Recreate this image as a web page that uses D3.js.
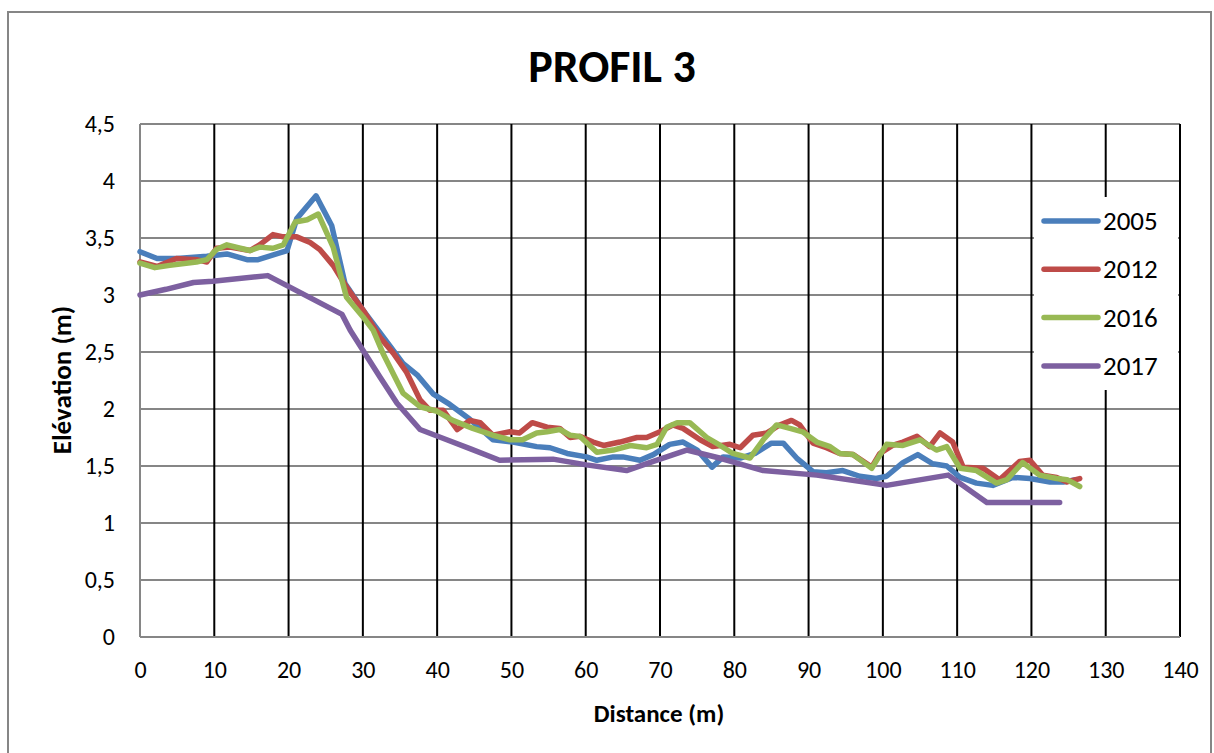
<!DOCTYPE html>
<html><head><meta charset="utf-8">
<script src="https://cdn.jsdelivr.net/npm/d3@7"></script>
<style>body{margin:0;background:#fff}svg{display:block}text{font-family:Carlito,Lato,"Open Sans",sans-serif;fill:#000}</style>
</head><body><svg id="c" width="1214" height="753"></svg>
<script>
const title = "PROFIL 3";
const xLabel = "Distance (m)";
const yLabel = "Elévation (m)";
const xTicks = [0,10,20,30,40,50,60,70,80,90,100,110,120,130,140];
const yTicks = [0,0.5,1,1.5,2,2.5,3,3.5,4,4.5];
const seriesNames = ["2005","2012","2016","2017"];
const seriesColors = ["#4A7EBB","#BE4B48","#98B954","#7D60A0"];

const s2005 = [[0,3.38],[2.3,3.32],[5,3.32],[9,3.34],[11.7,3.36],[14.4,3.31],[15.9,3.31],[19.8,3.39],[21.1,3.67],[23.7,3.87],[25.8,3.61],[27.6,3.10],[30,2.87],[32.3,2.67],[35.4,2.40],[37.3,2.30],[39.5,2.13],[41.7,2.04],[44.4,1.91],[47.5,1.73],[50.2,1.71],[53.4,1.67],[55.2,1.66],[57.5,1.61],[60.1,1.58],[61.5,1.55],[63.7,1.58],[65,1.58],[67.3,1.55],[69.1,1.60],[71.3,1.69],[73.1,1.71],[75,1.64],[77,1.49],[78.5,1.58],[80.8,1.57],[82.8,1.61],[85,1.70],[86.6,1.70],[88.4,1.57],[90.6,1.45],[92.4,1.44],[94.6,1.46],[96.9,1.41],[99.1,1.39],[100.5,1.41],[102.7,1.53],[104.7,1.60],[106.7,1.52],[108.6,1.50],[110.4,1.40],[112.6,1.35],[114.8,1.33],[117.5,1.40],[119.8,1.39],[122.5,1.36],[124.3,1.36],[126,1.38]];
const s2012 = [[0,3.29],[2.3,3.25],[4.9,3.32],[7.6,3.31],[9,3.29],[10.3,3.41],[12.1,3.42],[14.8,3.39],[16.1,3.44],[17.9,3.53],[19.3,3.51],[21.1,3.51],[22.9,3.46],[24.2,3.40],[26,3.26],[27.8,3.07],[30,2.87],[32.3,2.63],[34.1,2.49],[35.9,2.32],[37.7,2.08],[39,1.99],[40.8,1.99],[42.7,1.82],[44.4,1.90],[45.8,1.88],[47.5,1.77],[49.8,1.80],[51.1,1.79],[52.8,1.88],[54.8,1.84],[56.5,1.83],[57.9,1.75],[59.2,1.76],[61,1.71],[62.4,1.68],[64.6,1.71],[66.9,1.75],[68.2,1.75],[70,1.80],[71.7,1.86],[73.1,1.83],[75.4,1.73],[77.1,1.67],[79.4,1.69],[80.8,1.66],[82.5,1.77],[84.4,1.79],[86.1,1.86],[87.7,1.90],[88.8,1.86],[90.6,1.70],[92.4,1.66],[94.2,1.61],[96,1.60],[98.5,1.49],[99.6,1.61],[101.3,1.68],[102.7,1.71],[104.6,1.76],[106.3,1.67],[107.7,1.79],[109.4,1.71],[110.8,1.49],[113.5,1.48],[115.7,1.38],[118.4,1.54],[119.8,1.55],[121.5,1.42],[123.4,1.40],[124.8,1.36],[126.5,1.39]];
const s2016 = [[0,3.28],[2,3.24],[4,3.26],[7.6,3.29],[9,3.31],[10.3,3.40],[11.7,3.44],[13.5,3.41],[14.8,3.39],[16.1,3.42],[17.9,3.41],[19.3,3.44],[20.9,3.64],[22.5,3.66],[24,3.71],[26,3.42],[27.8,2.98],[30,2.81],[31.4,2.69],[32.7,2.49],[35.4,2.14],[37.7,2.02],[40,1.98],[42.1,1.90],[44.8,1.83],[47.5,1.77],[49.8,1.73],[51.5,1.73],[53.4,1.79],[54.8,1.80],[56.5,1.82],[57.9,1.77],[59.2,1.76],[61.5,1.62],[63.7,1.64],[66,1.68],[68.2,1.66],[69.6,1.69],[70.9,1.84],[72.3,1.88],[74,1.88],[76.3,1.75],[78.1,1.68],[79.8,1.61],[82.1,1.57],[83.9,1.73],[85.7,1.86],[87.5,1.83],[89.2,1.80],[91.1,1.71],[92.9,1.67],[94.2,1.61],[96,1.60],[98.5,1.48],[100.5,1.69],[102.7,1.68],[105,1.73],[107.2,1.64],[108.6,1.67],[110.4,1.48],[112.6,1.46],[115.3,1.35],[116.7,1.38],[118.8,1.53],[121.1,1.42],[123.4,1.39],[124.8,1.38],[126.5,1.32]];
const s2017 = [[0,3.00],[3.5,3.05],[7.2,3.11],[9.8,3.12],[17.2,3.17],[27.2,2.83],[28.3,2.69],[32.3,2.28],[34.6,2.05],[37.7,1.82],[41.3,1.73],[44.5,1.65],[48.4,1.55],[55.6,1.56],[60.1,1.51],[65.5,1.46],[69.1,1.54],[73.6,1.64],[78,1.57],[83.9,1.46],[91.1,1.42],[99.6,1.34],[100.5,1.33],[108.8,1.42],[114,1.18],[123.8,1.18]];
const seriesData = [s2005,s2012,s2016,s2017];

const svg = d3.select("#c");
svg.append("rect").attr("x",8).attr("y",12).attr("width",1203).attr("height",745)
  .attr("fill","#fff").attr("stroke","#868686").attr("stroke-width",2);

const L=140,R=1180,T=124,B=637;
const x = d3.scaleLinear().domain([0,140]).range([L,R]);
const y = d3.scaleLinear().domain([0,4.5]).range([B,T]);

const grid = svg.append("g");
grid.selectAll(".hg").data(yTicks.filter(v=>v>0)).join("line")
  .attr("x1",L).attr("x2",R).attr("y1",d=>y(d)).attr("y2",d=>y(d))
  .attr("stroke","#868686").attr("stroke-width",2);
grid.selectAll(".vg").data(xTicks.filter(v=>v>0)).join("line")
  .attr("x1",d=>x(d)).attr("x2",d=>x(d)).attr("y1",T).attr("y2",B)
  .attr("stroke","#000").attr("stroke-width",2);
grid.append("line").attr("x1",L).attr("x2",L).attr("y1",T).attr("y2",B).attr("stroke","#868686").attr("stroke-width",2);
grid.append("line").attr("x1",L).attr("x2",R).attr("y1",B).attr("y2",B).attr("stroke","#868686").attr("stroke-width",2);

const fmt = d => String(d).replace(".",",");
const yAxis = svg.append("g").attr("transform",`translate(${L},0)`)
  .call(d3.axisLeft(y).tickValues(yTicks).tickFormat(fmt).tickSize(0).tickPadding(25));
yAxis.select(".domain").remove();
yAxis.selectAll("text").style("font-size","24px").attr("font-family","Carlito,Lato,sans-serif");
const xAxis = svg.append("g").attr("transform",`translate(0,${B})`)
  .call(d3.axisBottom(x).tickValues(xTicks).tickFormat(fmt).tickSize(0).tickPadding(24));
xAxis.select(".domain").remove();
xAxis.selectAll("text").style("font-size","24px").attr("font-family","Carlito,Lato,sans-serif");

const line = d3.line().x(d=>x(d[0])).y(d=>y(d[1]));
seriesData.forEach((s,i)=>{
  svg.append("path").datum(s).attr("d",line).attr("fill","none")
    .attr("stroke",seriesColors[i]).attr("stroke-width",5.5)
    .attr("stroke-linejoin","round").attr("stroke-linecap","round");
});

// legend
const lg = svg.append("g");
lg.append("rect").attr("x",1034).attr("y",197).attr("width",144).attr("height",193).attr("fill","#fff");
seriesNames.forEach((n,i)=>{
  const yy = 221 + i*48.3;
  lg.append("line").attr("x1",1044).attr("x2",1098).attr("y1",yy).attr("y2",yy)
    .attr("stroke",seriesColors[i]).attr("stroke-width",5.5).attr("stroke-linecap","round");
  lg.append("text").attr("x",1103).attr("y",yy+9).style("font-size","27px").text(n);
});

svg.append("text").attr("x",612).attr("y",82).attr("text-anchor","middle")
  .style("font-size","46px").style("font-weight","bold").text(title);
svg.append("text").attr("x",659).attr("y",722).attr("text-anchor","middle")
  .style("font-size","25px").style("font-weight","bold").text(xLabel);
svg.append("text").attr("transform","translate(71,380) rotate(-90)").attr("text-anchor","middle")
  .style("font-size","27px").style("font-weight","bold").text(yLabel);
</script></body></html>
